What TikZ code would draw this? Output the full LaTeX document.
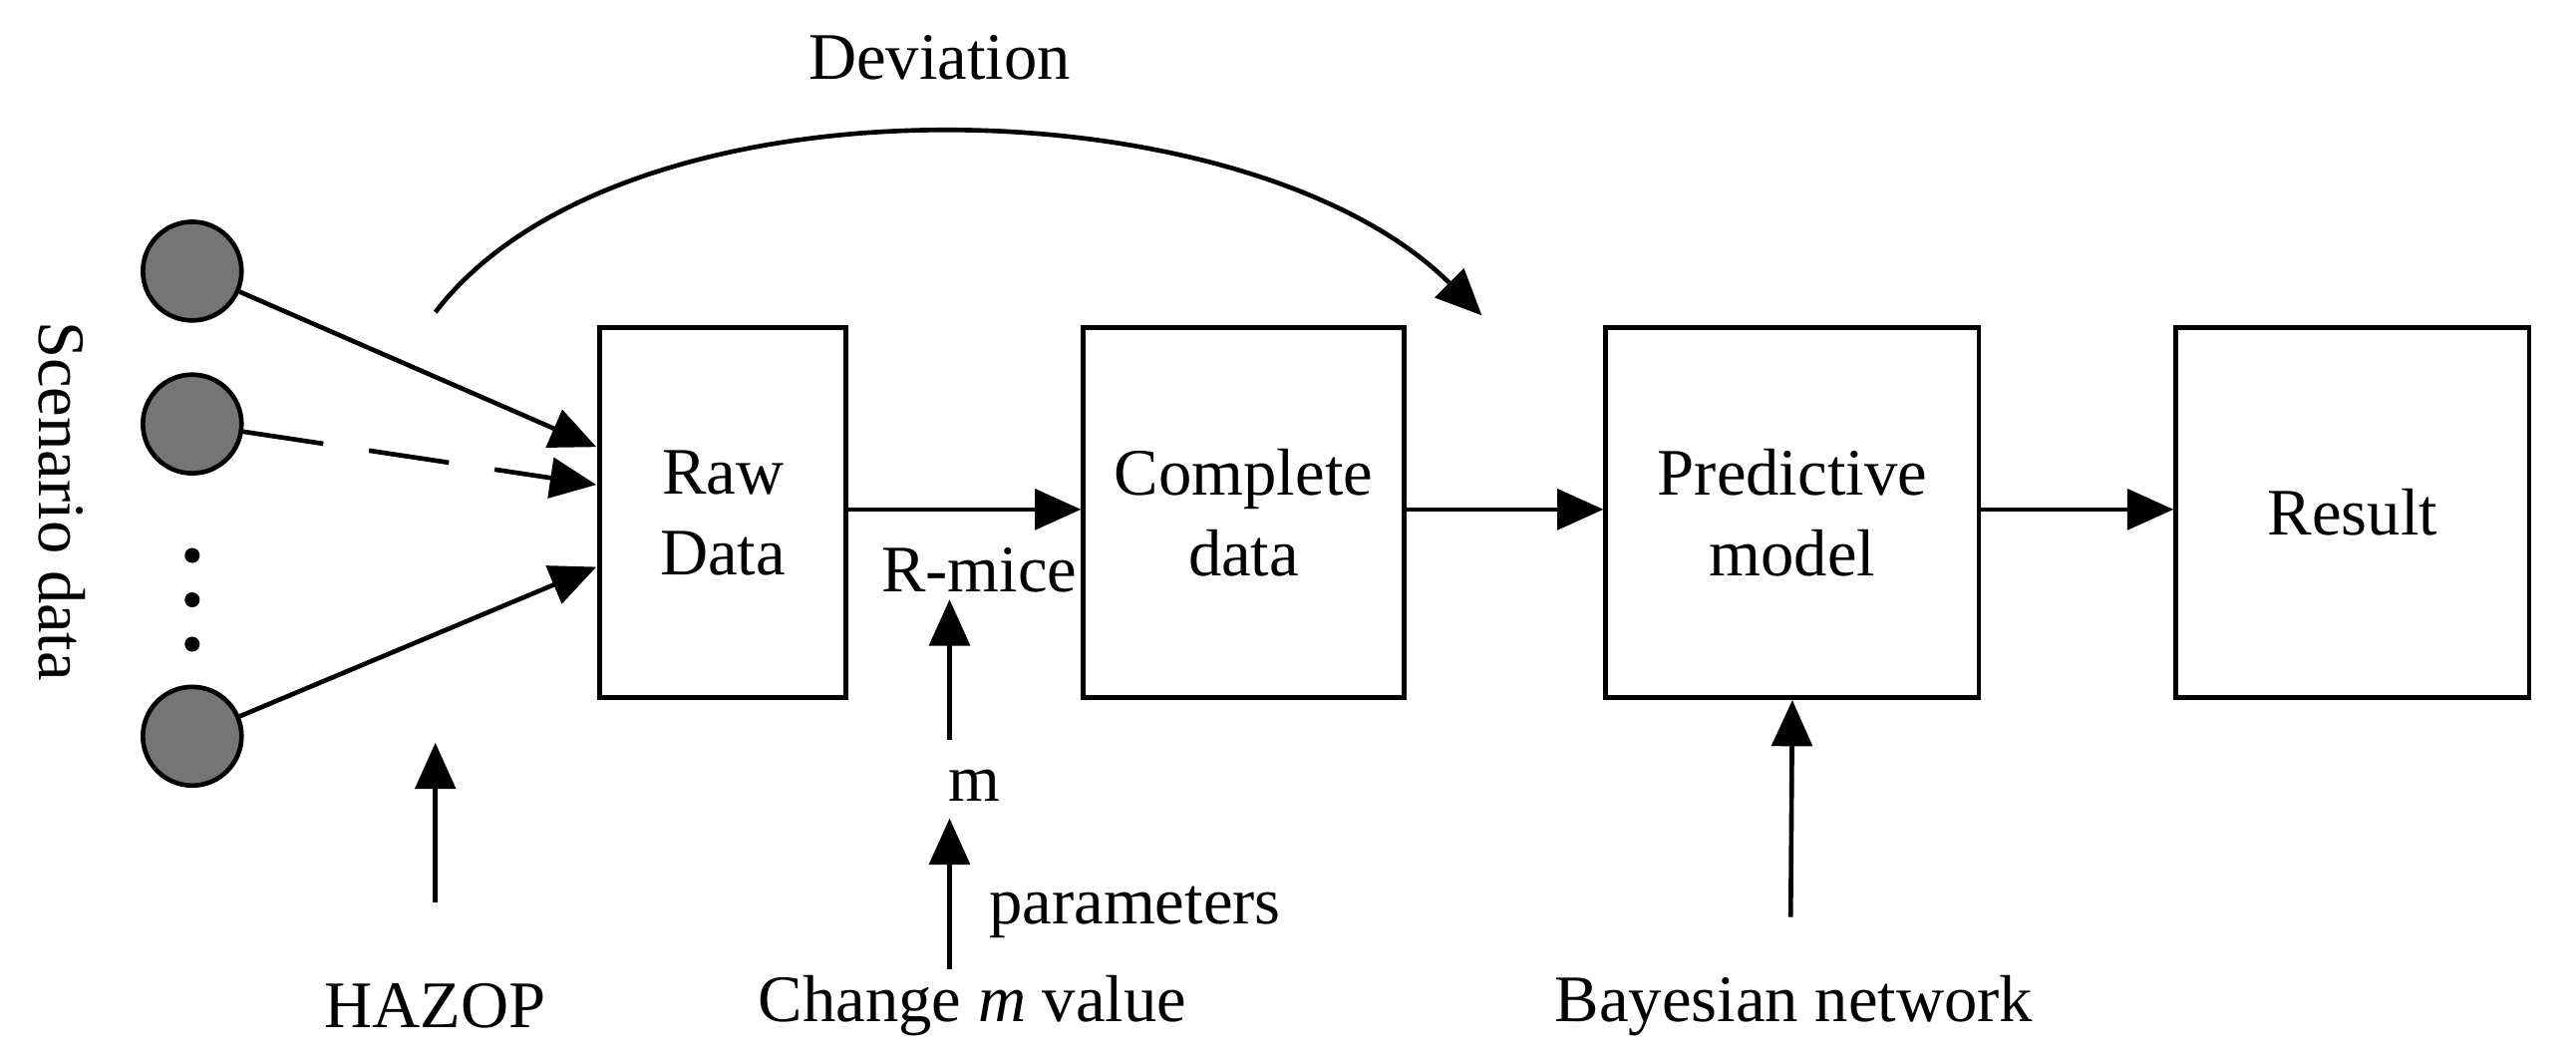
\documentclass[tikz,border=0pt]{standalone}
\usepackage{fontspec}
\setmainfont{Liberation Serif}
\usetikzlibrary{arrows.meta}
\begin{document}
\begin{tikzpicture}[x=0.01cm,y=-0.01cm,
  lw/.style={line width=0.8pt},
  box/.style={draw,lw,minimum width=#1,minimum height=2.25cm,align=center,inner sep=0pt},
  circ/.style={circle,draw,lw,fill=gray!80!black!90,minimum size=0.6cm,inner sep=0pt},
  arr/.style={lw,-{Triangle[length=8pt,width=7pt]}},
  txt/.style={font=\fontsize{11.5pt}{14pt}\selectfont,inner sep=1pt,align=center}]
\useasboundingbox (0,0) rectangle (1568,646);
\node[circ] (c1) at (117,165) {};
\node[circ] (c2) at (117,258) {};
\node[circ] (c3) at (117,448) {};
\foreach \y [count=\i] in {338,365,392} \fill (117,\y) circle (1.3pt);
\node[txt,rotate=-90] (sd) at (38,305) {Scenario data};
\node[box=1.5cm,txt] (raw) at (440,312) {Raw\\Data};
\node[box=1.95cm,txt] (comp) at (757,312) {Complete\\data};
\node[box=2.27cm,txt] (pred) at (1091,312) {Predictive\\model};
\node[box=2.15cm,txt] (res) at (1432,312) {Result};
\coordinate (r1) at (363,272);
\coordinate (r2) at (363,295);
\coordinate (r3) at (363,345);
\draw[arr] (c1) -- (r1);
\draw[arr,dash pattern=on 14pt off 8pt] (c2) -- (r2);
\draw[arr] (c3) -- (r3);
\draw[arr] (raw.east |- 0,310) -- (comp.west |- 0,310);
\draw[arr] (comp.east |- 0,310) -- (pred.west |- 0,310);
\draw[arr] (pred.east |- 0,310) -- (res.west |- 0,310);
\node[txt] (rm) at (596,347) {R-mice};
\node[txt] (m) at (593,478) {m};
\node[txt,anchor=west] (par) at (598,555) {parameters};
\node[txt] (cm) at (592,612) {Change \textit{m} value};
\coordinate (ma) at (578,450);
\coordinate (mb) at (578,590);
\draw[arr] (ma) -- (rm.south -| ma);
\draw[arr] (mb) -- (578,498);
\node[txt] (hz) at (265,612) {HAZOP};
\draw[arr] (hz.north) ++(0,-45) coordinate (h0) -- (265,452);
\node[txt] (bn) at (1092,612) {Bayesian network};
\coordinate (b0) at (1090,558);
\draw[arr] (b0) -- (pred.south);
\node[txt] (dev) at (572,35) {Deviation};
\coordinate (d0) at (265,190);
\coordinate (d1) at (902,192);
\draw[arr] (d0) .. controls (380,40) and (760,50) .. (d1);
\end{tikzpicture}
\end{document}
